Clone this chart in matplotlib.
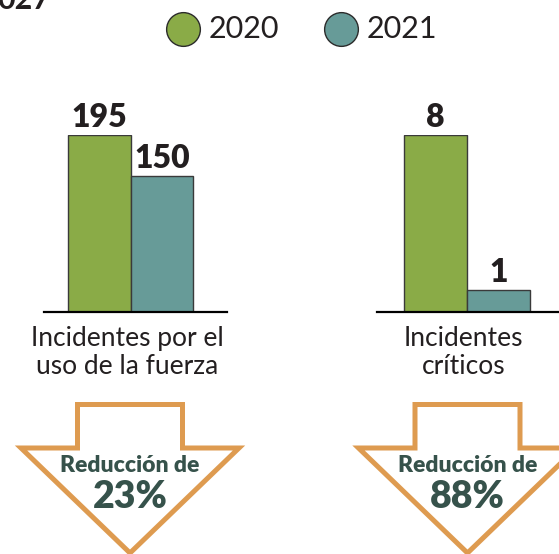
import matplotlib.pyplot as plt
from matplotlib.patches import Polygon

# datos
anios = ['2020', '2021']
categorias = ['Incidentes por el\nuso de la fuerza', 'Incidentes\ncríticos']
uso_fuerza = [195, 150]
criticos = [8, 1]
series = [uso_fuerza, criticos]

verde = '#8aab47'
azul = '#679b98'
naranja = '#de9b50'
texto_osc = '#36524b'
gris = '#231f20'

plt.rcParams['font.family'] = ['Lato', 'DejaVu Sans']

W, H = 559, 554
fig = plt.figure(figsize=(W / 100, H / 100), dpi=100)


def px_ax(x0, y0, x1, y1):
    # caja en pixeles (y desde arriba) -> fraccion de figura
    return [x0 / W, 1 - y1 / H, (x1 - x0) / W, (y1 - y0) / H]


# ejes de barras: (izq, der) en pixeles y xlim
cajas = [(44, 227, -0.884, 2.044), (377, 570, -0.929, 2.135)]
for vals, cat, (x0, x1, xl0, xl1) in zip(series, categorias, cajas):
    ax = fig.add_axes(px_ax(x0, 135, x1, 312))
    ax.bar([0, 1], vals, width=1, color=[verde, azul], edgecolor='#3a3a3a', linewidth=1)
    ax.set_xlim(xl0, xl1)
    ax.set_ylim(0, max(vals))
    for s in ['top', 'left', 'right']:
        ax.spines[s].set_visible(False)
    ax.spines['bottom'].set_linewidth(1.6)
    ax.spines['bottom'].set_color('black')
    ax.set_xticks([])
    ax.set_yticks([])
    ax.patch.set_visible(False)
    for i, v in enumerate(vals):
        ax.annotate(str(v), xy=(i, v), xytext=(0, 6), textcoords='offset points',
                    ha='center', va='baseline', fontsize=23, fontweight='heavy',
                    color=gris, annotation_clip=False)
    ax.annotate(cat, xy=(0.45, 0), xytext=(0, -29), textcoords='offset points',
                ha='center', va='center', fontsize=19, color=gris,
                linespacing=1.14, multialignment='center', annotation_clip=False)

# capa superior en pixeles para leyenda y flechas
ov = fig.add_axes([0, 0, 1, 1])
ov.set_xlim(0, W)
ov.set_ylim(H, 0)
ov.axis('off')
ov.patch.set_visible(False)

# texto recortado arriba a la izquierda (asi aparece en la imagen)
ov.text(-3, 9, '027', fontsize=22, fontweight='bold', color=gris, ha='left', va='baseline')

# leyenda
for xc, col, lab in [(183, verde, anios[0]), (341, azul, anios[1])]:
    ov.scatter([xc], [29], s=590, color=col, edgecolor='#2b2b2b', linewidth=1, zorder=3)
    ov.text(xc + 26, 29, lab, fontsize=22, fontweight='normal', color=gris,
            ha='left', va='center')


def flecha(cx):
    pts = [(cx - 52.5, 404.5), (cx + 52.5, 404.5), (cx + 52.5, 448), (cx + 109, 448),
           (cx, 553), (cx - 109, 448), (cx - 52.5, 448)]
    ov.add_patch(Polygon(pts, closed=True, facecolor='white', edgecolor=naranja,
                         linewidth=3.6, joinstyle='miter'))


for cx, vals in [(130, uso_fuerza), (467.5, criticos)]:
    flecha(cx)
    red = round(100 * (vals[0] - vals[1]) / vals[0])
    ov.text(cx, 465, 'Reducción de', fontsize=16.5, fontweight='heavy', color=texto_osc,
            ha='center', va='center')
    ov.text(cx, 497, f'{red}%', fontsize=27, fontweight='heavy', color=texto_osc,
            ha='center', va='center')

fig.savefig('out.png', dpi=100)
